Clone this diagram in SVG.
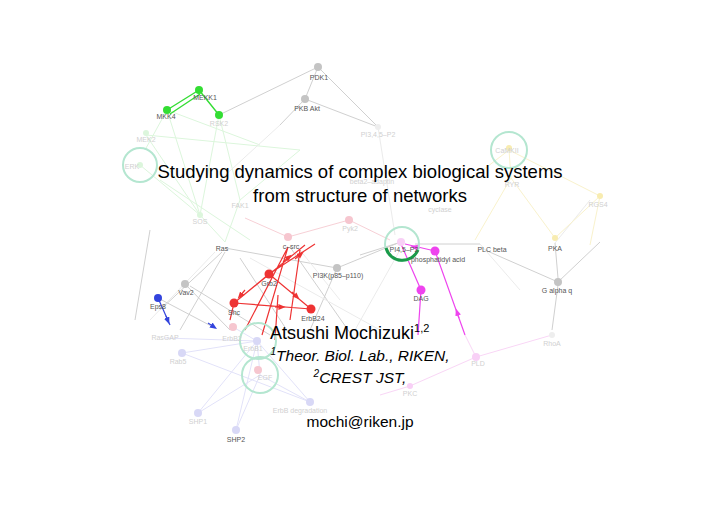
<svg xmlns="http://www.w3.org/2000/svg" width="720" height="509" viewBox="0 0 720 509">
<defs>
<style>
.lbl{font-family:"Liberation Sans",Arial,sans-serif;font-size:7px;text-anchor:middle;fill:#555}
.fl{font-family:"Liberation Sans",Arial,sans-serif;font-size:7px;text-anchor:middle;fill:#d0d0d0}
.eg{stroke:#d0d0d0;stroke-width:1;fill:none}
.egf{stroke:#ebebeb;stroke-width:1;fill:none}
.er{stroke:#ee3333;stroke-width:1.2;fill:none}
.ep{stroke:#f7d0d6;stroke-width:1;fill:none}
.em{stroke:#ee44ee;stroke-width:1.2;fill:none}
.emf{stroke:#f9d6f6;stroke-width:1;fill:none}
.eb{stroke:#3344dd;stroke-width:1.2;fill:none}
.ev{stroke:#e2e2f9;stroke-width:1;fill:none}
.eG{stroke:#33dd33;stroke-width:1.4;fill:none}
.eGf{stroke:#dcf6dc;stroke-width:1;fill:none}
.ey{stroke:#f9f2cc;stroke-width:1;fill:none}
.ring{fill:none;stroke:#b4e6d0;stroke-width:2}
.t{font-family:"Liberation Sans",Arial,sans-serif;fill:#000}
</style>
<marker id="ar" viewBox="0 0 10 10" refX="5" refY="5" markerWidth="6" markerHeight="6" orient="auto"><path d="M0,1 L10,5 L0,9 z" fill="#ee3333"/></marker>
<marker id="am" viewBox="0 0 10 10" refX="5" refY="5" markerWidth="6" markerHeight="6" orient="auto"><path d="M0,1 L10,5 L0,9 z" fill="#ee44ee"/></marker>
<marker id="ab" viewBox="0 0 10 10" refX="5" refY="5" markerWidth="6" markerHeight="6" orient="auto"><path d="M0,1 L10,5 L0,9 z" fill="#3344dd"/></marker>
</defs>
<rect width="720" height="509" fill="#fff"/>

<g id="connectors">
<path class="eGf" d="M167,110 L145,150 M167,110 L200,215 M167,110 L260,145 M219,115 L200,215 M219,115 L240,200 M146,135 L200,215 M146,135 L300,150 M140,165 L200,215 M200,215 L225,242 M240,200 L225,242 M300,150 L240,200 M160,180 L250,240"/>
<path class="eG" d="M167,110 L199,90 M170,114 L200,94 M199,90 L219,115"/>
<path class="eg" d="M219,115 L318,67"/>
<path class="eg" d="M318,67 L305,99 M318,67 L378,127 M305,99 L378,127 M305,99 L280,125"/>
<path class="egf" d="M280,125 L220,180 M378,127 L395,235"/>
<path class="eg" d="M225,248 L337,268 M337,268 L398,243 M398,243 L360,255 M480,244 L415,244 M558,282 L485,250 M555,243 L558,278 M558,285 L552,330 M558,282 L600,242 M225,252 L180,330 M222,252 L160,310 M185,284 L230,330 M190,286 L270,335 M240,258 L290,335 M337,268 L310,330 M290,247 L355,340 M150,230 L135,320"/>
<path class="egf" d="M250,258 L380,330 M400,250 L355,330 M480,244 L520,290 M555,243 L590,200 M215,252 L150,320 M300,250 L340,300"/>
<path class="ey" d="M509,150 L511,178 M509,150 L600,196 M511,178 L555,238 M600,196 L555,238 M509,150 L470,180 M511,178 L475,240 M600,196 L590,245"/>
<path class="ep" d="M288,237 L349,220 M288,237 L245,218 M349,220 L390,240"/>
<path class="er" d="M269,274 L234,303 M269,274 L311,309 M234,303 L311,309 M234,303 L305,245 M269,274 L315,244 M288,247 L245,330 M288,247 L262,335 M278,295 L275,340 M300,250 L290,320 M234,303 L230,320"/>
<path class="er" d="M245,290 L240,296" marker-end="url(#ar)"/>
<path class="er" d="M295,259 L301,254" marker-end="url(#ar)"/>
<path class="er" d="M283,262 L289,257" marker-end="url(#ar)"/>
<path class="er" d="M292,292 L297,297" marker-end="url(#ar)"/>
<path class="er" d="M275,307 L282,307" marker-end="url(#ar)"/>
<path class="em" d="M435,251 L405,244 M435,251 L465,335 M401,244 L421,290 M421,290 L418,335"/>
<path class="em" d="M420,248 L414,247" marker-end="url(#am)"/>
<path class="em" d="M459,318 L457,312" marker-end="url(#am)"/>
<path class="emf" d="M476,357 L410,386 M476,357 L552,335 M410,386 L380,395 M465,335 L476,357"/>
<path class="eb" d="M158,298 L170,325"/>
<path class="eb" d="M166,316 L168,321" marker-end="url(#ab)"/>
<path class="eg" d="M158,298 L215,328"/>
<path class="eb" d="M208,323 L214,327" marker-end="url(#ab)"/>
<path class="ev" d="M182,353 L310,402 M257,341 L198,413 M257,341 L236,430 M260,375 L198,413 M260,375 L236,430 M257,341 L310,402 M260,375 L310,402 M257,341 L182,353 M233,327 L257,341 M165,338 L257,341 M257,341 L260,375"/>
</g>

<g id="rings">
<circle class="ring" cx="140" cy="165" r="17"/>
<circle class="ring" cx="509" cy="150" r="18"/>
<circle class="ring" cx="402" cy="244" r="17"/>
<circle class="ring" cx="258" cy="341" r="18"/>
<circle class="ring" cx="260" cy="375" r="18"/>
<path d="M386,248 A17,17 0 0 0 418,250" fill="none" stroke="#1a9a4a" stroke-width="3"/>
</g>

<g id="n-PDK1"><circle cx="318" cy="67" r="4" fill="#c4c4c4"/><text class="lbl" x="319" y="80">PDK1</text></g>
<g id="n-PKB"><circle cx="305" cy="99" r="4" fill="#c4c4c4"/><text class="lbl" x="307" y="111">PKB Akt</text></g>
<g id="n-PI345"><circle cx="378" cy="127" r="3" fill="#eee"/><text class="fl" x="378" y="137">PI3,4,5–P2</text></g>
<g id="n-MEKK1"><circle cx="199" cy="90" r="4" fill="#33dd33"/><text class="lbl" x="205" y="100">MEKK1</text></g>
<g id="n-MKK4"><circle cx="167" cy="110" r="4" fill="#33dd33"/><text class="lbl" x="166" y="119">MKK4</text></g>
<g id="n-RSK2"><circle cx="219" cy="115" r="4" fill="#33dd33"/><text class="fl" x="219" y="126">RSK2</text></g>
<g id="n-MEK2"><circle cx="146" cy="133" r="3" fill="#dcf6dc"/><text class="fl" x="146" y="142">MEK2</text></g>
<g id="n-ERK"><circle cx="140" cy="165" r="3" fill="#dcf6dc"/><text class="fl" x="132" y="169">ERK</text></g>
<g id="n-SOS"><circle cx="200" cy="215" r="3" fill="#dcf6dc"/><text class="fl" x="200" y="224">SOS</text></g>
<g id="n-FAK1"><text class="fl" x="240" y="208">FAK1</text></g>
<g id="n-beta2"><text class="fl" x="372" y="184" font-size="6.5">beta2–adaptin</text></g>
<g id="n-RYR"><text class="fl" x="512" y="187">RYR</text></g>
<g id="n-CaMKII"><circle cx="509" cy="148" r="3" fill="#f8ecb0"/><text class="fl" x="507" y="153">CaMKII</text></g>
<g id="n-RGS4"><circle cx="600" cy="196" r="3" fill="#f8ecb0"/><text class="fl" x="598" y="207">RGS4</text></g>
<g id="n-cyclase"><text class="fl" x="440" y="212">cyclase</text></g>
<g id="n-Ras"><text class="lbl" x="222" y="251">Ras</text></g>
<g id="n-csrc"><circle cx="288" cy="237" r="4" fill="#f6c6cf"/><text class="lbl" x="291" y="249">c–src</text></g>
<g id="n-Pyk2"><circle cx="349" cy="220" r="4" fill="#f6c6cf"/><text class="fl" x="350" y="231">Pyk2</text></g>
<g id="n-Grb2"><circle cx="269" cy="274" r="4.5" fill="#ee3333"/><text class="lbl" x="269" y="286">Grb2</text></g>
<g id="n-PI3K"><circle cx="337" cy="268" r="4" fill="#c4c4c4"/><text class="lbl" x="338" y="278">PI3K(p85–p110)</text></g>
<g id="n-Vav2"><circle cx="185" cy="284" r="4" fill="#c4c4c4"/><text class="lbl" x="186" y="295">Vav2</text></g>
<g id="n-Eps8"><circle cx="158" cy="298" r="4" fill="#3344dd"/><text class="lbl" x="158" y="309">Eps8</text></g>
<g id="n-Shc"><circle cx="234" cy="303" r="4.5" fill="#ee3333"/><text class="lbl" x="234" y="315">Shc</text></g>
<g id="n-ErbB24"><circle cx="311" cy="309" r="4.5" fill="#ee3333"/><text class="lbl" x="313" y="321">ErbB24</text></g>
<g id="n-RasGAP"><text class="fl" x="165" y="340">RasGAP</text></g>
<g id="n-ErbB2"><circle cx="233" cy="327" r="4" fill="#f6c6cf"/><text class="fl" x="232" y="341">ErbB2</text></g>
<g id="n-ErbB"><circle cx="257" cy="341" r="4" fill="#d8d8f6"/><text class="fl" x="253" y="351">ErbB1</text></g>
<g id="n-EGF"><circle cx="258" cy="370" r="4" fill="#f6c6cf"/><text class="fl" x="265" y="380">EGF</text></g>
<g id="n-Rab5"><circle cx="182" cy="353" r="4" fill="#d8d8f6"/><text class="fl" x="178" y="364">Rab5</text></g>
<g id="n-ErbBdeg"><circle cx="310" cy="402" r="4" fill="#d8d8f6"/><text class="fl" x="300" y="413">ErbB degradation</text></g>
<g id="n-SHP1"><circle cx="198" cy="413" r="4" fill="#d8d8f6"/><text class="fl" x="198" y="424">SHP1</text></g>
<g id="n-SHP2"><circle cx="236" cy="430" r="4" fill="#d8d8f6"/><text class="lbl" x="236" y="442">SHP2</text></g>
<g id="n-PI45P2"><circle cx="401" cy="242" r="4" fill="#f8d0f6"/><text class="lbl" x="404" y="252">PI4,5–P2</text></g>
<g id="n-PA"><circle cx="435" cy="251" r="4.5" fill="#ee44ee"/><text class="lbl" x="438" y="262">phosphatidyl acid</text></g>
<g id="n-PLCb"><text class="lbl" x="492" y="252">PLC beta</text></g>
<g id="n-PKA"><circle cx="555" cy="238" r="3" fill="#f8ecb0"/><text class="lbl" x="555" y="251">PKA</text></g>
<g id="n-Gaq"><circle cx="558" cy="282" r="4" fill="#c4c4c4"/><text class="lbl" x="557" y="293">G alpha q</text></g>
<g id="n-DAG"><circle cx="421" cy="290" r="4.5" fill="#ee44ee"/><text class="lbl" x="421" y="301">DAG</text></g>
<g id="n-PLD"><circle cx="476" cy="357" r="4" fill="#f8d0f6"/><text class="fl" x="478" y="366">PLD</text></g>
<g id="n-PKC"><circle cx="410" cy="386" r="3" fill="#f8d0f6"/><text class="fl" x="410" y="396">PKC</text></g>
<g id="n-RhoA"><circle cx="552" cy="335" r="3" fill="#eee"/><text class="fl" x="552" y="346">RhoA</text></g>

<g id="title">
<text class="t" x="360" y="178" font-size="18.5" text-anchor="middle">Studying dynamics of complex biological systems</text>
<text class="t" x="360" y="202" font-size="18.5" text-anchor="middle">from structure of networks</text>
</g>
<g id="author">
<text class="t" x="270" y="339" font-size="18">Atsushi Mochizuki<tspan font-size="11" dy="-7">1,2</tspan></text>
<text class="t" x="360" y="361" font-size="15.5" font-style="italic" text-anchor="middle"><tspan font-size="10" dy="-6">1</tspan><tspan dy="6">Theor. Biol. Lab., RIKEN,</tspan></text>
<text class="t" x="360" y="383" font-size="15.5" font-style="italic" text-anchor="middle"><tspan font-size="10" dy="-6">2</tspan><tspan dy="6">CREST JST,</tspan></text>
<text class="t" x="360" y="427" font-size="15.5" text-anchor="middle">mochi@riken.jp</text>
</g>
</svg>
